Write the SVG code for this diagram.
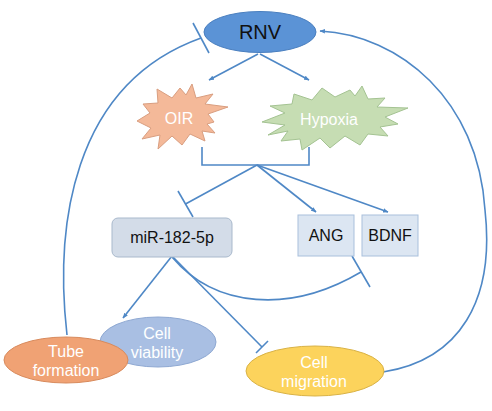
<svg xmlns="http://www.w3.org/2000/svg" width="492" height="411" viewBox="0 0 492 411">
<defs>
<style>
.ln{fill:none;stroke:#4f88c6;stroke-width:1.6}
.t{font-family:"Liberation Sans",Arial,sans-serif;text-anchor:middle}
.w{fill:#ffffff;font-size:16px}
.k{fill:#111111;font-size:16px}
</style>
<marker id="ah" viewBox="0 0 10 10" refX="9" refY="5" markerWidth="5.5" markerHeight="5.5" orient="auto" markerUnits="userSpaceOnUse">
<path d="M0,1 L10,5 L0,9 Z" fill="#4f88c6"/>
</marker>
</defs>
<rect width="492" height="411" fill="#ffffff"/>
<g id="connectors">
<path class="ln" d="M258,54 L209,80" marker-end="url(#ah)"/>
<path class="ln" d="M260,54 L309,80" marker-end="url(#ah)"/>
<path class="ln" d="M202,147 L202,165 L309,165 L309,147"/>
<path class="ln" d="M257,165 L185.5,204"/>
<path class="ln" d="M178,191 L193,217"/>
<path class="ln" d="M257,165 L316,212" marker-end="url(#ah)"/>
<path class="ln" d="M257,165 L388,212" marker-end="url(#ah)"/>
<path class="ln" d="M172,256 L123,318" marker-end="url(#ah)"/>
<path class="ln" d="M172,256 L262,347"/>
<path class="ln" d="M268,341 L256,353"/>
<path class="ln" d="M172,257 C215,308 290,314 361,272"/>
<path class="ln" d="M352,256 L370,287"/>
<path class="ln" d="M67,335 C55,230 70,85 201,38"/>
<path class="ln" d="M193,23 L209,53"/>
<path class="ln" d="M383,372 C460,360 495,300 485,210 C478,100 400,35 320,31" marker-end="url(#ah)"/>
</g>
<g id="RNV">
<ellipse cx="260" cy="32" rx="56" ry="20.5" fill="#5b93d6" stroke="#4a7fbf" stroke-width="1"/>
<text class="t" x="260" y="39" font-size="20" fill="#111111">RNV</text>
</g>
<g id="OIR">
<polygon points="137,121 150,113 143,104 158,103 157,89 172,98 180,88 186,95 192,84 196,98 213,94 205,104 228,107 208,114 214,122 207,124 215,133 202,131 205,141 190,134 182,145 172,136 158,149 160,135 142,139 151,128" fill="#f4b999" stroke="#d99e80" stroke-width="1"/>
<text class="t w" x="179" y="124">OIR</text>
</g>
<g id="Hypoxia">
<polygon points="262,122 285,113 270,106 292,104 294,94 312,100 322,88 335,97 350,90 355,96 362,86 368,99 385,98 377,107 408,108 385,117 398,124 380,127 388,136 368,134 360,145 345,136 330,148 320,138 302,150 300,139 281,141 288,131 268,135 285,125" fill="#c6ddb3" stroke="#a4c392" stroke-width="1"/>
<text class="t w" x="329" y="125">Hypoxia</text>
</g>
<g id="miR-182-5p">
<rect x="112" y="218" width="120" height="39" rx="6" fill="#d3dce8" stroke="#a9b9cc" stroke-width="1"/>
<text class="t k" x="172" y="243">miR-182-5p</text>
</g>
<g id="ANG">
<rect x="298" y="215" width="56" height="41" fill="#dce6f2" stroke="#a9c0dc" stroke-width="1"/>
<text class="t k" x="326" y="241">ANG</text>
</g>
<g id="BDNF">
<rect x="362" y="215" width="56" height="41" fill="#dce6f2" stroke="#a9c0dc" stroke-width="1"/>
<text class="t k" x="390" y="241">BDNF</text>
</g>
<g id="CellViability">
<ellipse cx="158" cy="342" rx="58" ry="25" fill="#a9bfe3" stroke="#8ea8d2" stroke-width="1"/>
<text class="t w" x="157" y="339">Cell</text>
<text class="t w" x="157" y="358">viability</text>
</g>
<g id="TubeFormation">
<ellipse cx="66" cy="360" rx="62" ry="23" fill="#f0a274" stroke="#d88a5c" stroke-width="1"/>
<text class="t w" x="66" y="357">Tube</text>
<text class="t w" x="66" y="376">formation</text>
</g>
<g id="CellMigration">
<ellipse cx="315" cy="371" rx="69" ry="25" fill="#fcd35c" stroke="#d9b245" stroke-width="1"/>
<text class="t w" x="314" y="368">Cell</text>
<text class="t w" x="314" y="387">migration</text>
</g>
</svg>
